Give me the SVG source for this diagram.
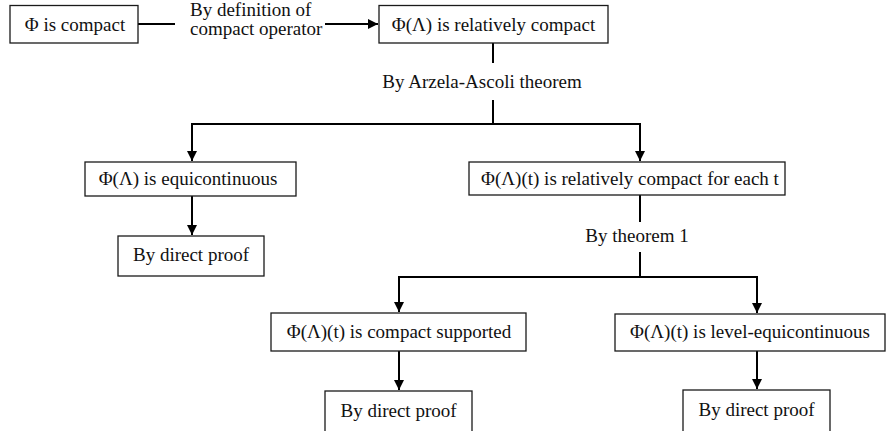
<svg xmlns="http://www.w3.org/2000/svg" width="886" height="431" viewBox="0 0 886 431">
  <style>
    .box { fill: #ffffff; stroke: #1a1a1a; stroke-width: 1.3; }
    .t { font-family: 'Liberation Serif', 'DejaVu Serif', serif; font-size: 19px; fill: #111111; }
    .c { text-anchor: middle; }
    .conn { fill: none; stroke: #000000; stroke-width: 2; }
  </style>
  <defs>
    <marker id="arrow" viewBox="0 0 10 10" refX="10" refY="5" markerWidth="5" markerHeight="5" orient="auto" markerUnits="strokeWidth">
      <path d="M0,0 L10,5 L0,10 Z" fill="#000000"/>
    </marker>
  </defs>
  <rect width="886" height="431" fill="#ffffff"/>

  <g id="connectors">
    <line class="conn" x1="138" y1="24" x2="175" y2="24"/>
    <line class="conn" x1="325" y1="24" x2="378" y2="24" marker-end="url(#arrow)"/>
    <line class="conn" x1="493" y1="43" x2="493" y2="63"/>
    <line class="conn" x1="493" y1="100" x2="493" y2="124"/>
    <line class="conn" x1="191" y1="124" x2="641" y2="124"/>
    <line class="conn" x1="192" y1="124" x2="192" y2="161" marker-end="url(#arrow)"/>
    <line class="conn" x1="640" y1="124" x2="640" y2="161" marker-end="url(#arrow)"/>
    <line class="conn" x1="192" y1="196" x2="192" y2="235" marker-end="url(#arrow)"/>
    <line class="conn" x1="640" y1="195" x2="640" y2="222"/>
    <line class="conn" x1="640" y1="252" x2="640" y2="277"/>
    <line class="conn" x1="398" y1="277" x2="758" y2="277"/>
    <line class="conn" x1="399" y1="277" x2="399" y2="312" marker-end="url(#arrow)"/>
    <line class="conn" x1="757" y1="277" x2="757" y2="313" marker-end="url(#arrow)"/>
    <line class="conn" x1="399" y1="351" x2="399" y2="390" marker-end="url(#arrow)"/>
    <line class="conn" x1="757" y1="351" x2="757" y2="389" marker-end="url(#arrow)"/>
  </g>

  <g id="label-definition">
    <text class="t" x="190" y="16">By definition of</text>
    <text class="t" x="190" y="35">compact operator</text>
  </g>
  <g id="label-arzela">
    <text class="t c" x="482" y="88">By Arzela-Ascoli theorem</text>
  </g>
  <g id="label-theorem1">
    <text class="t c" x="637" y="242">By theorem 1</text>
  </g>

  <g id="node-phi-compact">
    <rect class="box" x="10" y="5.5" width="128" height="37.5"/>
    <text class="t c" x="75" y="31">Φ is compact</text>
  </g>
  <g id="node-rel-compact">
    <rect class="box" x="379" y="5.5" width="229" height="37.5"/>
    <text class="t c" x="493.5" y="31">Φ(Λ) is relatively compact</text>
  </g>
  <g id="node-equicontinuous">
    <rect class="box" x="85" y="162" width="211" height="34"/>
    <text class="t c" x="188" y="185">Φ(Λ) is equicontinuous</text>
  </g>
  <g id="node-proof-1">
    <rect class="box" x="118" y="236" width="146" height="40"/>
    <text class="t c" x="191" y="261">By direct proof</text>
  </g>
  <g id="node-rel-compact-t">
    <rect class="box" x="469" y="162" width="316" height="33"/>
    <text class="t c" x="630" y="185">Φ(Λ)(t) is relatively compact for each t</text>
  </g>
  <g id="node-compact-supported">
    <rect class="box" x="271" y="313" width="255" height="38"/>
    <text class="t c" x="399" y="338">Φ(Λ)(t) is compact supported</text>
  </g>
  <g id="node-level-equi">
    <rect class="box" x="615" y="314" width="270" height="37"/>
    <text class="t c" x="750" y="338">Φ(Λ)(t) is level-equicontinuous</text>
  </g>
  <g id="node-proof-2">
    <rect class="box" x="325" y="391" width="147" height="50"/>
    <text class="t c" x="398.5" y="417">By direct proof</text>
  </g>
  <g id="node-proof-3">
    <rect class="box" x="683" y="390" width="147" height="50"/>
    <text class="t c" x="756.5" y="416">By direct proof</text>
  </g>
</svg>
